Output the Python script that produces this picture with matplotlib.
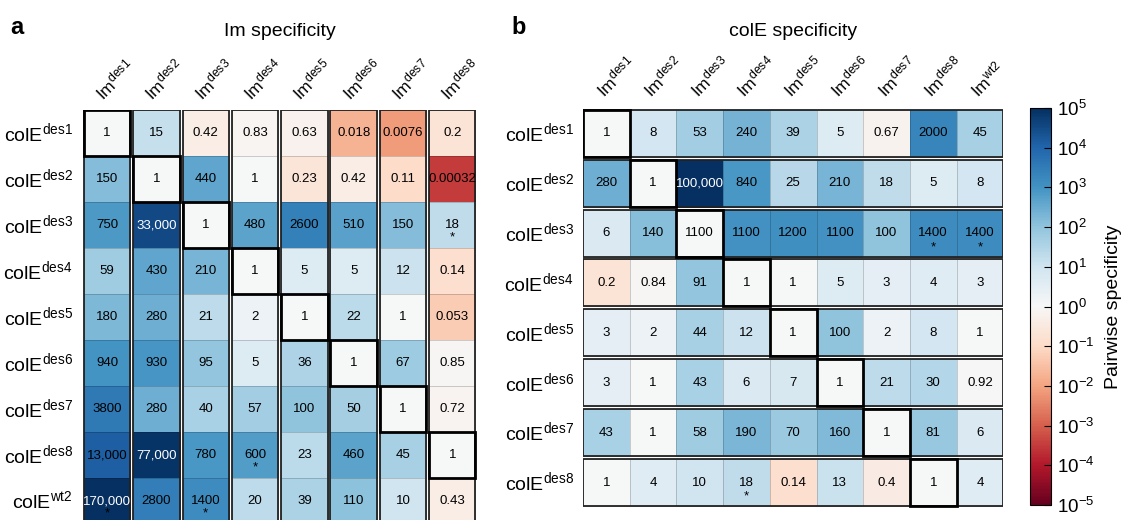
import numpy as np
import matplotlib
matplotlib.use("Agg")
import matplotlib.pyplot as plt
from matplotlib.colors import LogNorm
from matplotlib.patches import Rectangle
from matplotlib.cm import ScalarMappable

plt.rcParams['font.family'] = ['Liberation Sans', 'DejaVu Sans']
plt.rcParams['mathtext.fontset'] = 'custom'
plt.rcParams['mathtext.rm'] = 'Liberation Sans'
plt.rcParams['mathtext.it'] = 'Liberation Sans:italic'
plt.rcParams['mathtext.bf'] = 'Liberation Sans:bold'

# ---- panel a: Im specificity (rows colE, cols Im) ----
a_cols = ["des1", "des2", "des3", "des4", "des5", "des6", "des7", "des8"]
a_rows = ["des1", "des2", "des3", "des4", "des5", "des6", "des7", "des8", "wt2"]
a_vals = [
    [1, 15, 0.42, 0.83, 0.63, 0.018, 0.0076, 0.2],
    [150, 1, 440, 1, 0.23, 0.42, 0.11, 0.00032],
    [750, 33000, 1, 480, 2600, 510, 150, 18],
    [59, 430, 210, 1, 5, 5, 12, 0.14],
    [180, 280, 21, 2, 1, 22, 1, 0.053],
    [940, 930, 95, 5, 36, 1, 67, 0.85],
    [3800, 280, 40, 57, 100, 50, 1, 0.72],
    [13000, 77000, 780, 600, 23, 460, 45, 1],
    [170000, 2800, 1400, 20, 39, 110, 10, 0.43],
]
a_stars = [(2, 7), (7, 3), (8, 0), (8, 2)]

# ---- panel b: colE specificity (rows colE, cols Im) ----
b_cols = ["des1", "des2", "des3", "des4", "des5", "des6", "des7", "des8", "wt2"]
b_rows = ["des1", "des2", "des3", "des4", "des5", "des6", "des7", "des8"]
b_vals = [
    [1, 8, 53, 240, 39, 5, 0.67, 2000, 45],
    [280, 1, 100000, 840, 25, 210, 18, 5, 8],
    [6, 140, 1100, 1100, 1200, 1100, 100, 1400, 1400],
    [0.2, 0.84, 91, 1, 1, 5, 3, 4, 3],
    [3, 2, 44, 12, 1, 100, 2, 8, 1],
    [3, 1, 43, 6, 7, 1, 21, 30, 0.92],
    [43, 1, 58, 190, 70, 160, 1, 81, 6],
    [1, 4, 10, 18, 0.14, 13, 0.4, 1, 4],
]
b_stars = [(2, 7), (2, 8), (7, 3)]

cmap = plt.get_cmap('RdBu')
norm = LogNorm(vmin=1e-5, vmax=1e5)

W, H = 1122, 520
fig = plt.figure(figsize=(W / 100, H / 100), dpi=100)


def px_axes(left, top, width, height):
    return fig.add_axes([left / W, (H - top - height) / H, width / W, height / H])


def fmt(v):
    if v >= 10000:
        return f"{v:,.0f}"
    return f"{v:g}"


def draw_panel(ax, vals, rows, cols, stars, by_col, label_dx):
    vals = np.array(vals, dtype=float)
    nr, nc = vals.shape
    shade = vals.copy()
    for i in range(min(nr, nc)):
        shade[i, i] = 1.0  # reference pair normalised to 1
    g = 0.03
    if by_col:
        for j in range(nc):
            ax.pcolormesh([j + g, j + 1 - g], np.arange(nr + 1), shade[:, [j]],
                          cmap=cmap, norm=norm, edgecolors=(0, 0, 0, 0.18), linewidth=0.6)
            ax.add_patch(Rectangle((j + g, 0), 1 - 2 * g, nr, fill=False,
                                   ec='#222222', lw=1.3, zorder=3))
    else:
        for i in range(nr):
            ax.pcolormesh(np.arange(nc + 1), [i + g, i + 1 - g], shade[[i], :],
                          cmap=cmap, norm=norm, edgecolors=(0, 0, 0, 0.18), linewidth=0.6)
            ax.add_patch(Rectangle((0, i + g), nc, 1 - 2 * g, fill=False,
                                   ec='#222222', lw=1.3, zorder=3))
    for i in range(min(nr, nc)):
        if by_col:
            r = Rectangle((i + g, i), 1 - 2 * g, 1, fill=False, ec='black', lw=2.0, zorder=4)
        else:
            r = Rectangle((i, i + g), 1, 1 - 2 * g, fill=False, ec='black', lw=2.0, zorder=4)
        ax.add_patch(r)
    for i in range(nr):
        for j in range(nc):
            v = vals[i, j]
            ax.text(j + 0.5, i + 0.5, fmt(v), ha='center', va='center', fontsize=9.5,
                    color='white' if v > 2e4 else 'black', zorder=5)
    for (i, j) in stars:
        ax.text(j + 0.5, i + 0.78, '*', ha='center', va='center', fontsize=9.5,
                color='black', zorder=5)
    ax.set_xlim(0, nc)
    ax.set_ylim(nr, 0)
    ax.axis('off')
    for j, c in enumerate(cols):
        ax.text(j + 0.5 + label_dx, -0.2, 'Im$^{\\mathrm{' + c + '}}$', rotation=45,
                rotation_mode='anchor', ha='left', va='baseline', fontsize=12.5, clip_on=False)
    for i, r in enumerate(rows):
        ax.text(-0.2, i + 0.5, 'colE$^{\\mathrm{' + r + '}}$', ha='right', va='center',
                fontsize=14, clip_on=False)


# panel a: column pitch 49.3 px, row pitch 46 px
ax_a = px_axes(82.5, 110, 8 * 49.3, 9 * 46)
draw_panel(ax_a, a_vals, a_rows, a_cols, a_stars, True, -0.08)

# panel b: column pitch 46.7 px, row pitch 49.9 px
ax_b = px_axes(583, 108.3, 9 * 46.7, 8 * 49.9)
draw_panel(ax_b, b_vals, b_rows, b_cols, b_stars, False, -0.04)

fig.text(280 / W, 1 - 32 / H, 'Im specificity', fontsize=14, ha='center', va='center')
fig.text(793 / W, 1 - 32 / H, 'colE specificity', fontsize=14, ha='center', va='center')
fig.text(10 / W, 1 - 28 / H, 'a', fontsize=17, fontweight='bold', va='center')
fig.text(511 / W, 1 - 28 / H, 'b', fontsize=17, fontweight='bold', va='center')

cax = px_axes(1030, 108, 21, 397)
cb = fig.colorbar(ScalarMappable(norm=norm, cmap=cmap), cax=cax,
                  ticks=10.0 ** np.arange(-5, 6))
cb.ax.minorticks_off()
cb.ax.tick_params(direction='in', length=5, width=0.8, labelsize=13.5, pad=4)
cb.outline.set_linewidth(0.8)
cb.set_label('Pairwise specificity', fontsize=14, labelpad=8)

fig.savefig('out.png', dpi=100)
